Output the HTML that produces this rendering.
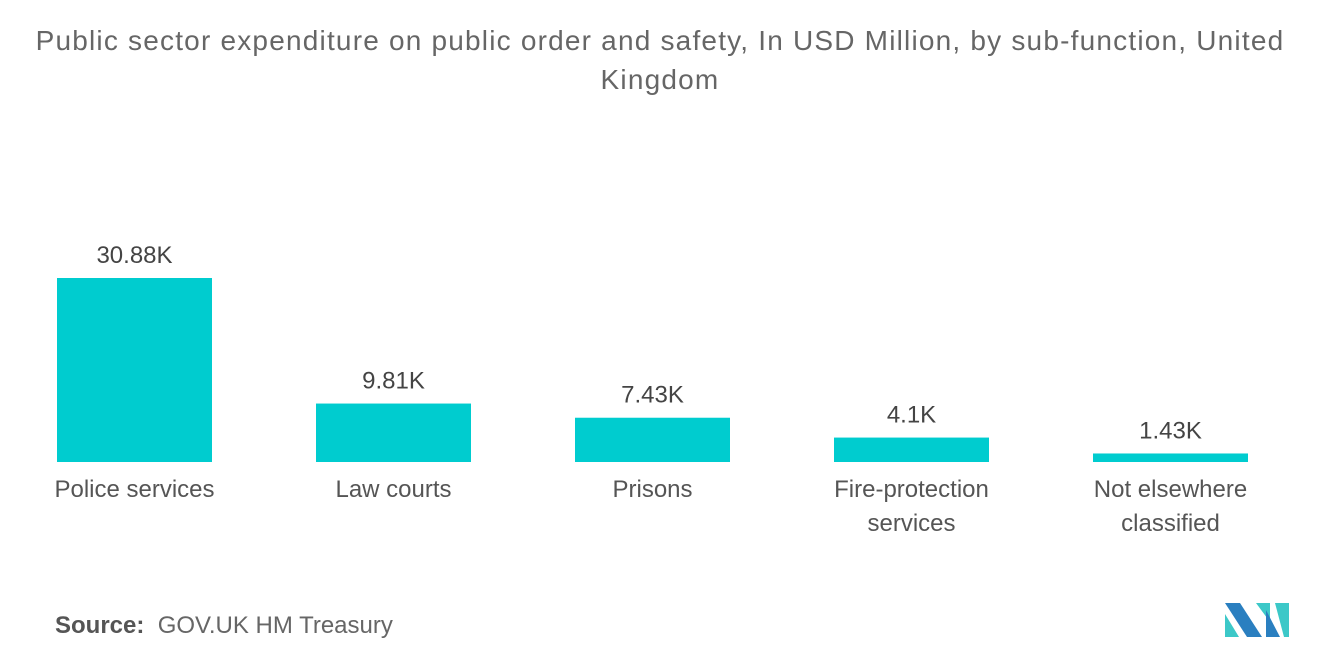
<!DOCTYPE html>
<html><head><meta charset="utf-8"><style>
body{margin:0;width:1320px;height:665px;background:#fff;font-family:"Liberation Sans",sans-serif;overflow:hidden;position:relative}
.title{position:absolute;left:0;top:21px;width:1320px;text-align:center;color:#666;font-size:28px;line-height:39px;letter-spacing:1.2px}
.src{position:absolute;left:55px;top:612px;font-size:24px;color:#666}
</style></head><body>
<div class="title">Public sector expenditure on public order and safety, In USD Million, by sub-function, United<br>Kingdom</div>
<svg id="chart" width="1320" height="665" style="position:absolute;left:0;top:0"></svg>
<div class="src"><b style="font-weight:bold;color:#555">Source:</b>&nbsp;&nbsp;GOV.UK HM Treasury</div>
<svg width="70" height="40" style="position:absolute;left:1222px;top:600px">
<polygon points="3,3 18,3 40,37 25,37" fill="#2a7fc0"/><polygon points="3,14 17,37 3,37" fill="#3cc8c8"/>
<polygon points="34,3 48,3 48,22" fill="#3cc8c8"/>
<polygon points="44,10 58,37 44,37" fill="#2a7fc0"/><polygon points="53,3 67,3 67,37 62,37" fill="#3cc8c8"/>
</svg>
<script>
const categories=["Police services","Law courts","Prisons","Fire-protection services","Not elsewhere classified"];
const values=[30.88,9.81,7.43,4.1,1.43];
const valueLabels=["30.88K","9.81K","7.43K","4.1K","1.43K"];
const svg=document.getElementById('chart');
const NS='http://www.w3.org/2000/svg';
const baseY=462,pxPerK=184/30.88,x0=57,step=259,bw=155;
const y=v=>baseY-v*pxPerK;
const lines={"Fire-protection services":["Fire-protection","services"],"Not elsewhere classified":["Not elsewhere","classified"]};
categories.forEach((c,i)=>{
 const x=x0+i*step;
 const r=document.createElementNS(NS,'rect');
 r.setAttribute('x',x);r.setAttribute('y',y(values[i]));r.setAttribute('width',bw);r.setAttribute('height',baseY-y(values[i]));r.setAttribute('fill','#00cccf');
 
 
 svg.appendChild(r);
 const t=document.createElementNS(NS,'text');
 t.setAttribute('x',x+bw/2);t.setAttribute('y',y(values[i])-15);t.setAttribute('text-anchor','middle');t.setAttribute('font-size','24');t.setAttribute('fill','#444');
 t.textContent=valueLabels[i];
 
 
 svg.appendChild(t);
 (lines[c]||[c]).forEach((l,j)=>{
  const tt=document.createElementNS(NS,'text');
  tt.setAttribute('x',x+bw/2);tt.setAttribute('y',497+j*34);tt.setAttribute('text-anchor','middle');tt.setAttribute('font-size','24');tt.setAttribute('fill','#555');
  tt.textContent=l;
  
  
  svg.appendChild(tt);
 });
});
</script>
</body></html>
